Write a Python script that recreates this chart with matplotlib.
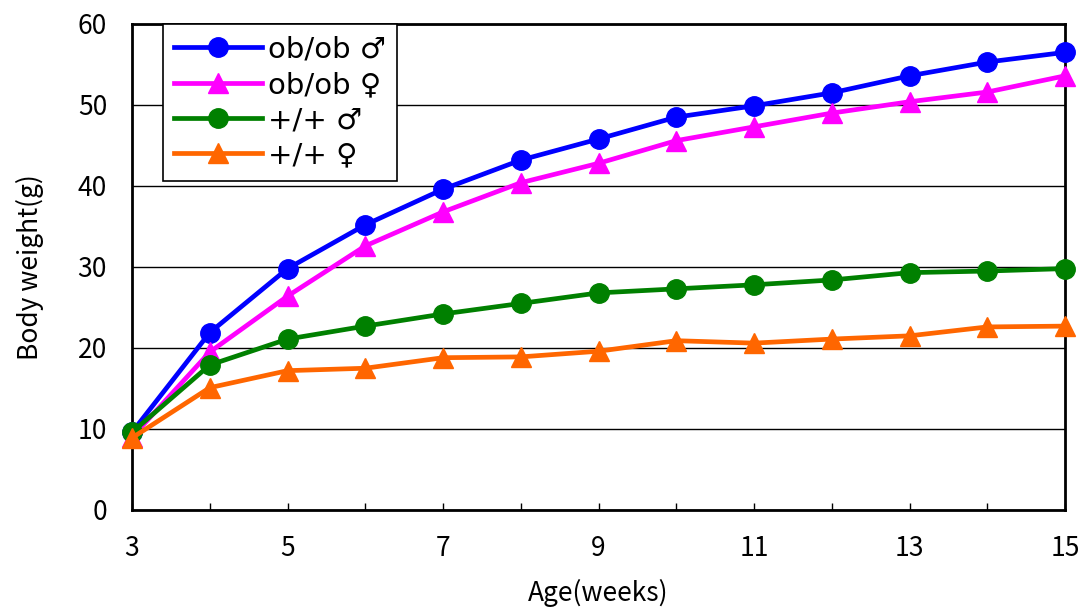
import matplotlib
matplotlib.use("Agg")
import matplotlib.pyplot as plt

weeks = [3, 4, 5, 6, 7, 8, 9, 10, 11, 12, 13, 14, 15]
obob_male = [9.6, 21.9, 29.8, 35.2, 39.6, 43.2, 45.8, 48.5, 49.9, 51.5, 53.6, 55.3, 56.5]
obob_female = [9.0, 19.5, 26.4, 32.6, 36.8, 40.4, 42.8, 45.6, 47.3, 49.0, 50.4, 51.6, 53.6]
wt_male = [9.6, 17.9, 21.1, 22.7, 24.2, 25.5, 26.8, 27.3, 27.8, 28.4, 29.3, 29.5, 29.8]
wt_female = [8.9, 15.1, 17.2, 17.5, 18.8, 18.9, 19.6, 20.9, 20.6, 21.1, 21.5, 22.6, 22.7]
labels = ["ob/ob ♂", "ob/ob ♀", "+/+ ♂", "+/+ ♀"]
x_ticklabels = ["3", "5", "7", "9", "11", "13", "15"]
y_ticks = [0, 10, 20, 30, 40, 50, 60]

plt.rcParams['font.family'] = ['Noto Sans CJK JP', 'DejaVu Sans']

fig = plt.figure(figsize=(10.84, 6.12), dpi=100)
ax = fig.add_axes([0.1218, 0.1667, 0.8607, 0.7941])

series = [obob_male, obob_female, wt_male, wt_female]
colors = ["#0000FF", "#FF00FF", "#008000", "#FF6600"]
markers = ["o", "^", "o", "^"]
for vals, c, m, lab in zip(series, colors, markers, labels):
    ax.plot(weeks, vals, color=c, marker=m, lw=3.4, ms=14, label=lab,
            markeredgecolor=c, clip_on=False, zorder=3)

ax.set_xlim(3, 15)
ax.set_ylim(0, 60)
ax.set_yticks(y_ticks)
ax.set_xticks(weeks)
ax.set_xticklabels([str(w) if str(w) in x_ticklabels else "" for w in weeks])
ax.yaxis.grid(True, color="black", lw=1.0)
ax.set_axisbelow(True)
ax.tick_params(axis='x', direction='in', length=5, width=1, labelsize=19, pad=18)
ax.tick_params(axis='y', direction='out', length=0, labelsize=19, pad=18)
for s in ax.spines.values():
    s.set_linewidth(2)
    s.set_color("black")

ax.set_xlabel("Age(weeks)", fontsize=19, labelpad=12)
ax.set_ylabel("Body weight(g)", fontsize=19, labelpad=24)

leg = ax.legend(loc='upper left', bbox_to_anchor=(0.033, 1.0), frameon=True, fancybox=False,
                edgecolor="black", borderpad=0.4, labelspacing=0.25,
                handlelength=3.0, handletextpad=0.2, borderaxespad=0,
                prop={'family': ['DejaVu Sans'], 'size': 21})
leg.get_frame().set_linewidth(1.2)
leg.get_frame().set_alpha(1)

fig.savefig("out.png", dpi=100)
